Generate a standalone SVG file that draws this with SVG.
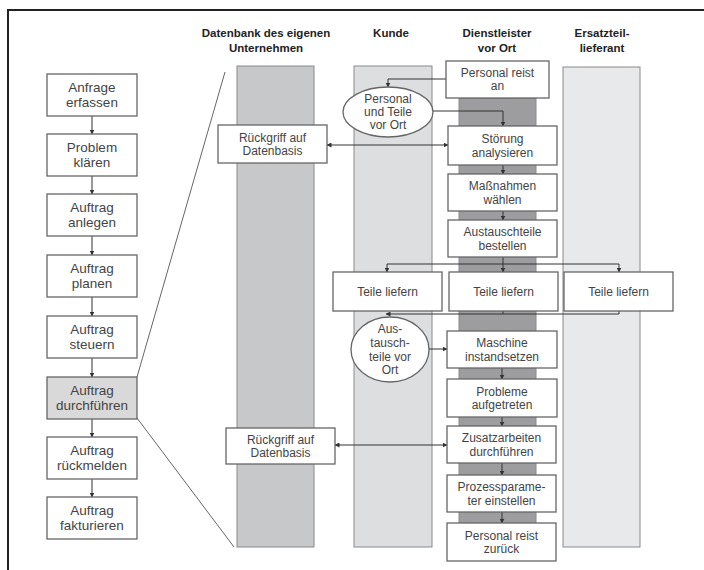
<svg xmlns="http://www.w3.org/2000/svg" width="704" height="570" viewBox="0 0 704 570">
  <defs>
    <marker id="arr" viewBox="0 0 10 10" refX="9" refY="5" markerWidth="5" markerHeight="5" orient="auto-start-reverse" markerUnits="userSpaceOnUse">
      <path d="M0,0 L10,5 L0,10 z" fill="#333"/>
    </marker>
  </defs>
  <style>
    .box { fill: #fff; stroke: #666; stroke-width: 1.3; }
    .box-hl { fill: #d9d9d9; stroke: #666; stroke-width: 1.3; }
    .lane { stroke: #8a8a8a; stroke-width: 1; }
    .t { font-family: "Liberation Sans", Arial, sans-serif; font-size: 12px; fill: #444; text-anchor: middle; }
    .tl { font-family: "Liberation Sans", Arial, sans-serif; font-size: 13.5px; fill: #444; text-anchor: middle; }
    .h { font-family: "Liberation Sans", Arial, sans-serif; font-size: 11.5px; font-weight: bold; fill: #222; text-anchor: middle; }
    .c { fill: none; stroke: #333; stroke-width: 1; }
    .zoom { fill: none; stroke: #666; stroke-width: 1; }
  </style>

  <rect width="704" height="570" fill="#fff"/>
  <!-- outer frame -->
  <rect x="8" y="10" width="720" height="600" fill="none" stroke="#222" stroke-width="2"/>

  <!-- column headers -->
  <g id="headers">
    <text class="h" x="266" y="37">Datenbank des eigenen</text>
    <text class="h" x="266" y="52">Unternehmen</text>
    <text class="h" x="391" y="37">Kunde</text>
    <text class="h" x="497" y="37">Dienstleister</text>
    <text class="h" x="497" y="52">vor Ort</text>
    <text class="h" x="602" y="37">Ersatzteil-</text>
    <text class="h" x="602" y="52">lieferant</text>
  </g>

  <!-- swimlanes -->
  <g id="lanes">
    <rect class="lane" x="237" y="66" width="77" height="481" fill="#c6c8ca"/>
    <rect class="lane" x="354" y="66" width="78" height="481" fill="#dcdee0"/>
    <rect class="lane" x="459" y="98" width="77" height="442" fill="#9d9d9f"/>
    <rect class="lane" x="563" y="67" width="77" height="480" fill="#e7e9eb"/>
  </g>

  <!-- zoom lines from the highlighted step to the detail -->
  <g id="zoom-lines">
    <line class="zoom" x1="137" y1="377" x2="225" y2="72"/>
    <line class="zoom" x1="137" y1="418" x2="234" y2="547"/>
  </g>

  <!-- connectors -->
  <g id="connectors">
    <!-- left process chain -->
    <path class="c" d="M92,116 V134" marker-end="url(#arr)"/>
    <path class="c" d="M92,176 V194" marker-end="url(#arr)"/>
    <path class="c" d="M92,236 V255" marker-end="url(#arr)"/>
    <path class="c" d="M92,297 V316" marker-end="url(#arr)"/>
    <path class="c" d="M92,358 V377" marker-end="url(#arr)"/>
    <path class="c" d="M92,419 V437" marker-end="url(#arr)"/>
    <path class="c" d="M92,479 V497" marker-end="url(#arr)"/>

    <!-- detail flow -->
    <path class="c" d="M446,79 H388 V87" marker-end="url(#arr)"/>
    <path class="c" d="M433,111 H503 V126" marker-end="url(#arr)"/>
    <path class="c" d="M327,145 H448" marker-start="url(#arr)" marker-end="url(#arr)"/>
    <path class="c" d="M503,165 V174" marker-end="url(#arr)"/>
    <path class="c" d="M503,211 V220" marker-end="url(#arr)"/>
    <path class="c" d="M503,257 V272" marker-end="url(#arr)"/>
    <path class="c" d="M387,264 H619"/>
    <path class="c" d="M387,264 V272" marker-end="url(#arr)"/>
    <path class="c" d="M619,264 V272" marker-end="url(#arr)"/>
    <path class="c" d="M619,311 V314 H386" marker-end="url(#arr)"/>
    <path class="c" d="M503,311 V314"/>
    <path class="c" d="M429,349 H447" marker-end="url(#arr)"/>
    <path class="c" d="M502,368 V379" marker-end="url(#arr)"/>
    <path class="c" d="M502,417 V426" marker-end="url(#arr)"/>
    <path class="c" d="M335,445 H447" marker-start="url(#arr)" marker-end="url(#arr)"/>
    <path class="c" d="M502,463 V475" marker-end="url(#arr)"/>
    <path class="c" d="M502,512 V523" marker-end="url(#arr)"/>
  </g>

  <!-- process chain -->
  <g id="anfrage-erfassen"><rect class="box" x="47" y="74" width="90" height="42"/><text class="tl" x="92" y="92">Anfrage</text><text class="tl" x="92" y="107">erfassen</text></g>
  <g id="problem-klaeren"><rect class="box" x="47" y="134" width="90" height="42"/><text class="tl" x="92" y="152">Problem</text><text class="tl" x="92" y="167">klären</text></g>
  <g id="auftrag-anlegen"><rect class="box" x="47" y="194" width="90" height="42"/><text class="tl" x="92" y="212">Auftrag</text><text class="tl" x="92" y="227">anlegen</text></g>
  <g id="auftrag-planen"><rect class="box" x="47" y="255" width="90" height="42"/><text class="tl" x="92" y="273">Auftrag</text><text class="tl" x="92" y="288">planen</text></g>
  <g id="auftrag-steuern"><rect class="box" x="47" y="316" width="90" height="42"/><text class="tl" x="92" y="334">Auftrag</text><text class="tl" x="92" y="349">steuern</text></g>
  <g id="auftrag-durchfuehren"><rect class="box-hl" x="47" y="377" width="90" height="42"/><text class="tl" x="92" y="395">Auftrag</text><text class="tl" x="92" y="410">durchführen</text></g>
  <g id="auftrag-rueckmelden"><rect class="box" x="47" y="437" width="90" height="42"/><text class="tl" x="92" y="455">Auftrag</text><text class="tl" x="92" y="470">rückmelden</text></g>
  <g id="auftrag-fakturieren"><rect class="box" x="47" y="497" width="90" height="42"/><text class="tl" x="92" y="515">Auftrag</text><text class="tl" x="92" y="530">fakturieren</text></g>

  <!-- detail: Datenbank -->
  <g id="rueckgriff-1"><rect class="box" x="218" y="125" width="109" height="38"/><text class="t" x="272.5" y="141.5">Rückgriff auf</text><text class="t" x="272.5" y="155">Datenbasis</text></g>
  <g id="rueckgriff-2"><rect class="box" x="226" y="428" width="109" height="36"/><text class="t" x="280.5" y="443.5">Rückgriff auf</text><text class="t" x="280.5" y="457">Datenbasis</text></g>

  <!-- detail: Kunde -->
  <g id="personal-teile-vor-ort"><ellipse class="box" cx="388" cy="112" rx="45" ry="25"/><text class="t" x="388" y="103">Personal</text><text class="t" x="388" y="116">und Teile</text><text class="t" x="388" y="129">vor Ort</text></g>
  <g id="teile-liefern-1"><rect class="box" x="333" y="272" width="109" height="39"/><text class="t" x="387.5" y="296">Teile liefern</text></g>
  <g id="austauschteile-vor-ort"><ellipse class="box" cx="390" cy="349.5" rx="39" ry="32.5"/><text class="t" x="390" y="333">Aus-</text><text class="t" x="390" y="347">tausch-</text><text class="t" x="390" y="361">teile vor</text><text class="t" x="390" y="374">Ort</text></g>

  <!-- detail: Dienstleister vor Ort -->
  <g id="personal-reist-an"><rect class="box" x="446" y="61" width="103" height="37"/><text class="t" x="497.5" y="77">Personal reist</text><text class="t" x="497.5" y="90">an</text></g>
  <g id="stoerung-analysieren"><rect class="box" x="448" y="126" width="109" height="39"/><text class="t" x="502.5" y="143">Störung</text><text class="t" x="502.5" y="156.5">analysieren</text></g>
  <g id="massnahmen-waehlen"><rect class="box" x="448" y="174" width="109" height="37"/><text class="t" x="502.5" y="190">Maßnahmen</text><text class="t" x="502.5" y="203.5">wählen</text></g>
  <g id="austauschteile-bestellen"><rect class="box" x="448" y="220" width="109" height="37"/><text class="t" x="502.5" y="236">Austauschteile</text><text class="t" x="502.5" y="249.5">bestellen</text></g>
  <g id="teile-liefern-2"><rect class="box" x="449" y="272" width="109" height="39"/><text class="t" x="503.5" y="296">Teile liefern</text></g>
  <g id="maschine-instandsetzen"><rect class="box" x="447" y="331" width="110" height="37"/><text class="t" x="502" y="347">Maschine</text><text class="t" x="502" y="360.5">instandsetzen</text></g>
  <g id="probleme-aufgetreten"><rect class="box" x="447" y="379" width="110" height="38"/><text class="t" x="502" y="395.5">Probleme</text><text class="t" x="502" y="409">aufgetreten</text></g>
  <g id="zusatzarbeiten"><rect class="box" x="447" y="426" width="109" height="37"/><text class="t" x="501.5" y="442">Zusatzarbeiten</text><text class="t" x="501.5" y="455.5">durchführen</text></g>
  <g id="prozessparameter"><rect class="box" x="447" y="475" width="109" height="37"/><text class="t" x="501.5" y="491">Prozessparame-</text><text class="t" x="501.5" y="504.5">ter einstellen</text></g>
  <g id="personal-reist-zurueck"><rect class="box" x="447" y="523" width="109" height="38"/><text class="t" x="501.5" y="539.5">Personal reist</text><text class="t" x="501.5" y="553">zurück</text></g>

  <!-- detail: Ersatzteillieferant -->
  <g id="teile-liefern-3"><rect class="box" x="564" y="272" width="109" height="39"/><text class="t" x="618.5" y="296">Teile liefern</text></g>
</svg>
